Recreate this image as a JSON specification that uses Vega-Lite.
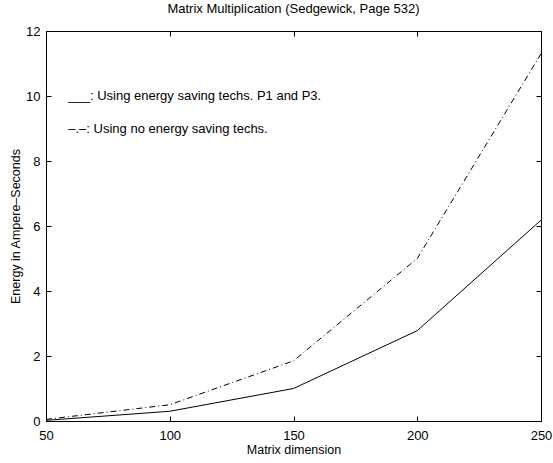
{
  "$schema": "https://vega.github.io/schema/vega-lite/v6.json",
  "width": 495,
  "height": 390,
  "autosize": {"type": "none"},
  "padding": {"left": 46, "top": 31, "right": 12, "bottom": 42},
  "background": "white",
  "config": {
    "font": "Liberation Sans",
    "view": {"stroke": "black", "strokeWidth": 1},
    "axis": {"grid": false, "domainColor": "black", "tickColor": "black", "labelColor": "black", "titleColor": "black", "labelFontSize": 13, "titleFontSize": 12.5, "titleFontWeight": "normal", "tickSize": -5, "labelFlush": false}
  },
  "title": {"text": "Matrix Multiplication (Sedgewick, Page 532)", "fontSize": 13, "fontWeight": "normal", "color": "black", "offset": 9},
  "datasets": {
    "series": [
      {"n": 50, "energy": 0.02, "method": "saving"},
      {"n": 100, "energy": 0.3, "method": "saving"},
      {"n": 150, "energy": 1.0, "method": "saving"},
      {"n": 200, "energy": 2.78, "method": "saving"},
      {"n": 250, "energy": 6.18, "method": "saving"},
      {"n": 50, "energy": 0.05, "method": "none"},
      {"n": 100, "energy": 0.5, "method": "none"},
      {"n": 150, "energy": 1.85, "method": "none"},
      {"n": 200, "energy": 5.0, "method": "none"},
      {"n": 250, "energy": 11.3, "method": "none"}
    ],
    "notes": [
      {"n": 59, "energy": 10.0, "label": "___: Using energy saving techs. P1 and P3."},
      {"n": 59, "energy": 9.0, "label": "–.–: Using no energy saving techs."}
    ]
  },
  "resolve": {"axis": {"x": "independent", "y": "independent"}},
  "layer": [
    {
      "data": {"name": "series"},
      "transform": [{"filter": "datum.method == 'saving'"}],
      "mark": {"type": "line", "color": "black", "strokeWidth": 1},
      "encoding": {
        "x": {"field": "n", "type": "quantitative", "scale": {"domain": [50, 250], "nice": false}, "axis": {"title": "Matrix dimension", "values": [50, 100, 150, 200, 250], "orient": "bottom", "labelPadding": 13, "titlePadding": 1}},
        "y": {"field": "energy", "type": "quantitative", "scale": {"domain": [0, 12], "nice": false}, "axis": {"title": "Energy in Ampere–Seconds", "values": [0, 2, 4, 6, 8, 10, 12], "orient": "left", "labelPadding": 11, "titlePadding": 3}}
      }
    },
    {
      "data": {"name": "series"},
      "transform": [{"filter": "datum.method == 'none'"}],
      "mark": {"type": "line", "color": "black", "strokeWidth": 1, "strokeDash": [6, 3, 1, 3]},
      "encoding": {
        "x": {"field": "n", "type": "quantitative", "axis": {"title": null, "values": [50, 100, 150, 200, 250], "orient": "top", "labels": false}},
        "y": {"field": "energy", "type": "quantitative", "axis": {"title": null, "values": [0, 2, 4, 6, 8, 10, 12], "orient": "right", "labels": false}}
      }
    },
    {
      "data": {"name": "notes"},
      "mark": {"type": "text", "align": "left", "baseline": "middle", "fontSize": 13, "color": "black"},
      "encoding": {
        "x": {"field": "n", "type": "quantitative", "axis": null},
        "y": {"field": "energy", "type": "quantitative", "axis": null},
        "text": {"field": "label"}
      }
    }
  ]
}
